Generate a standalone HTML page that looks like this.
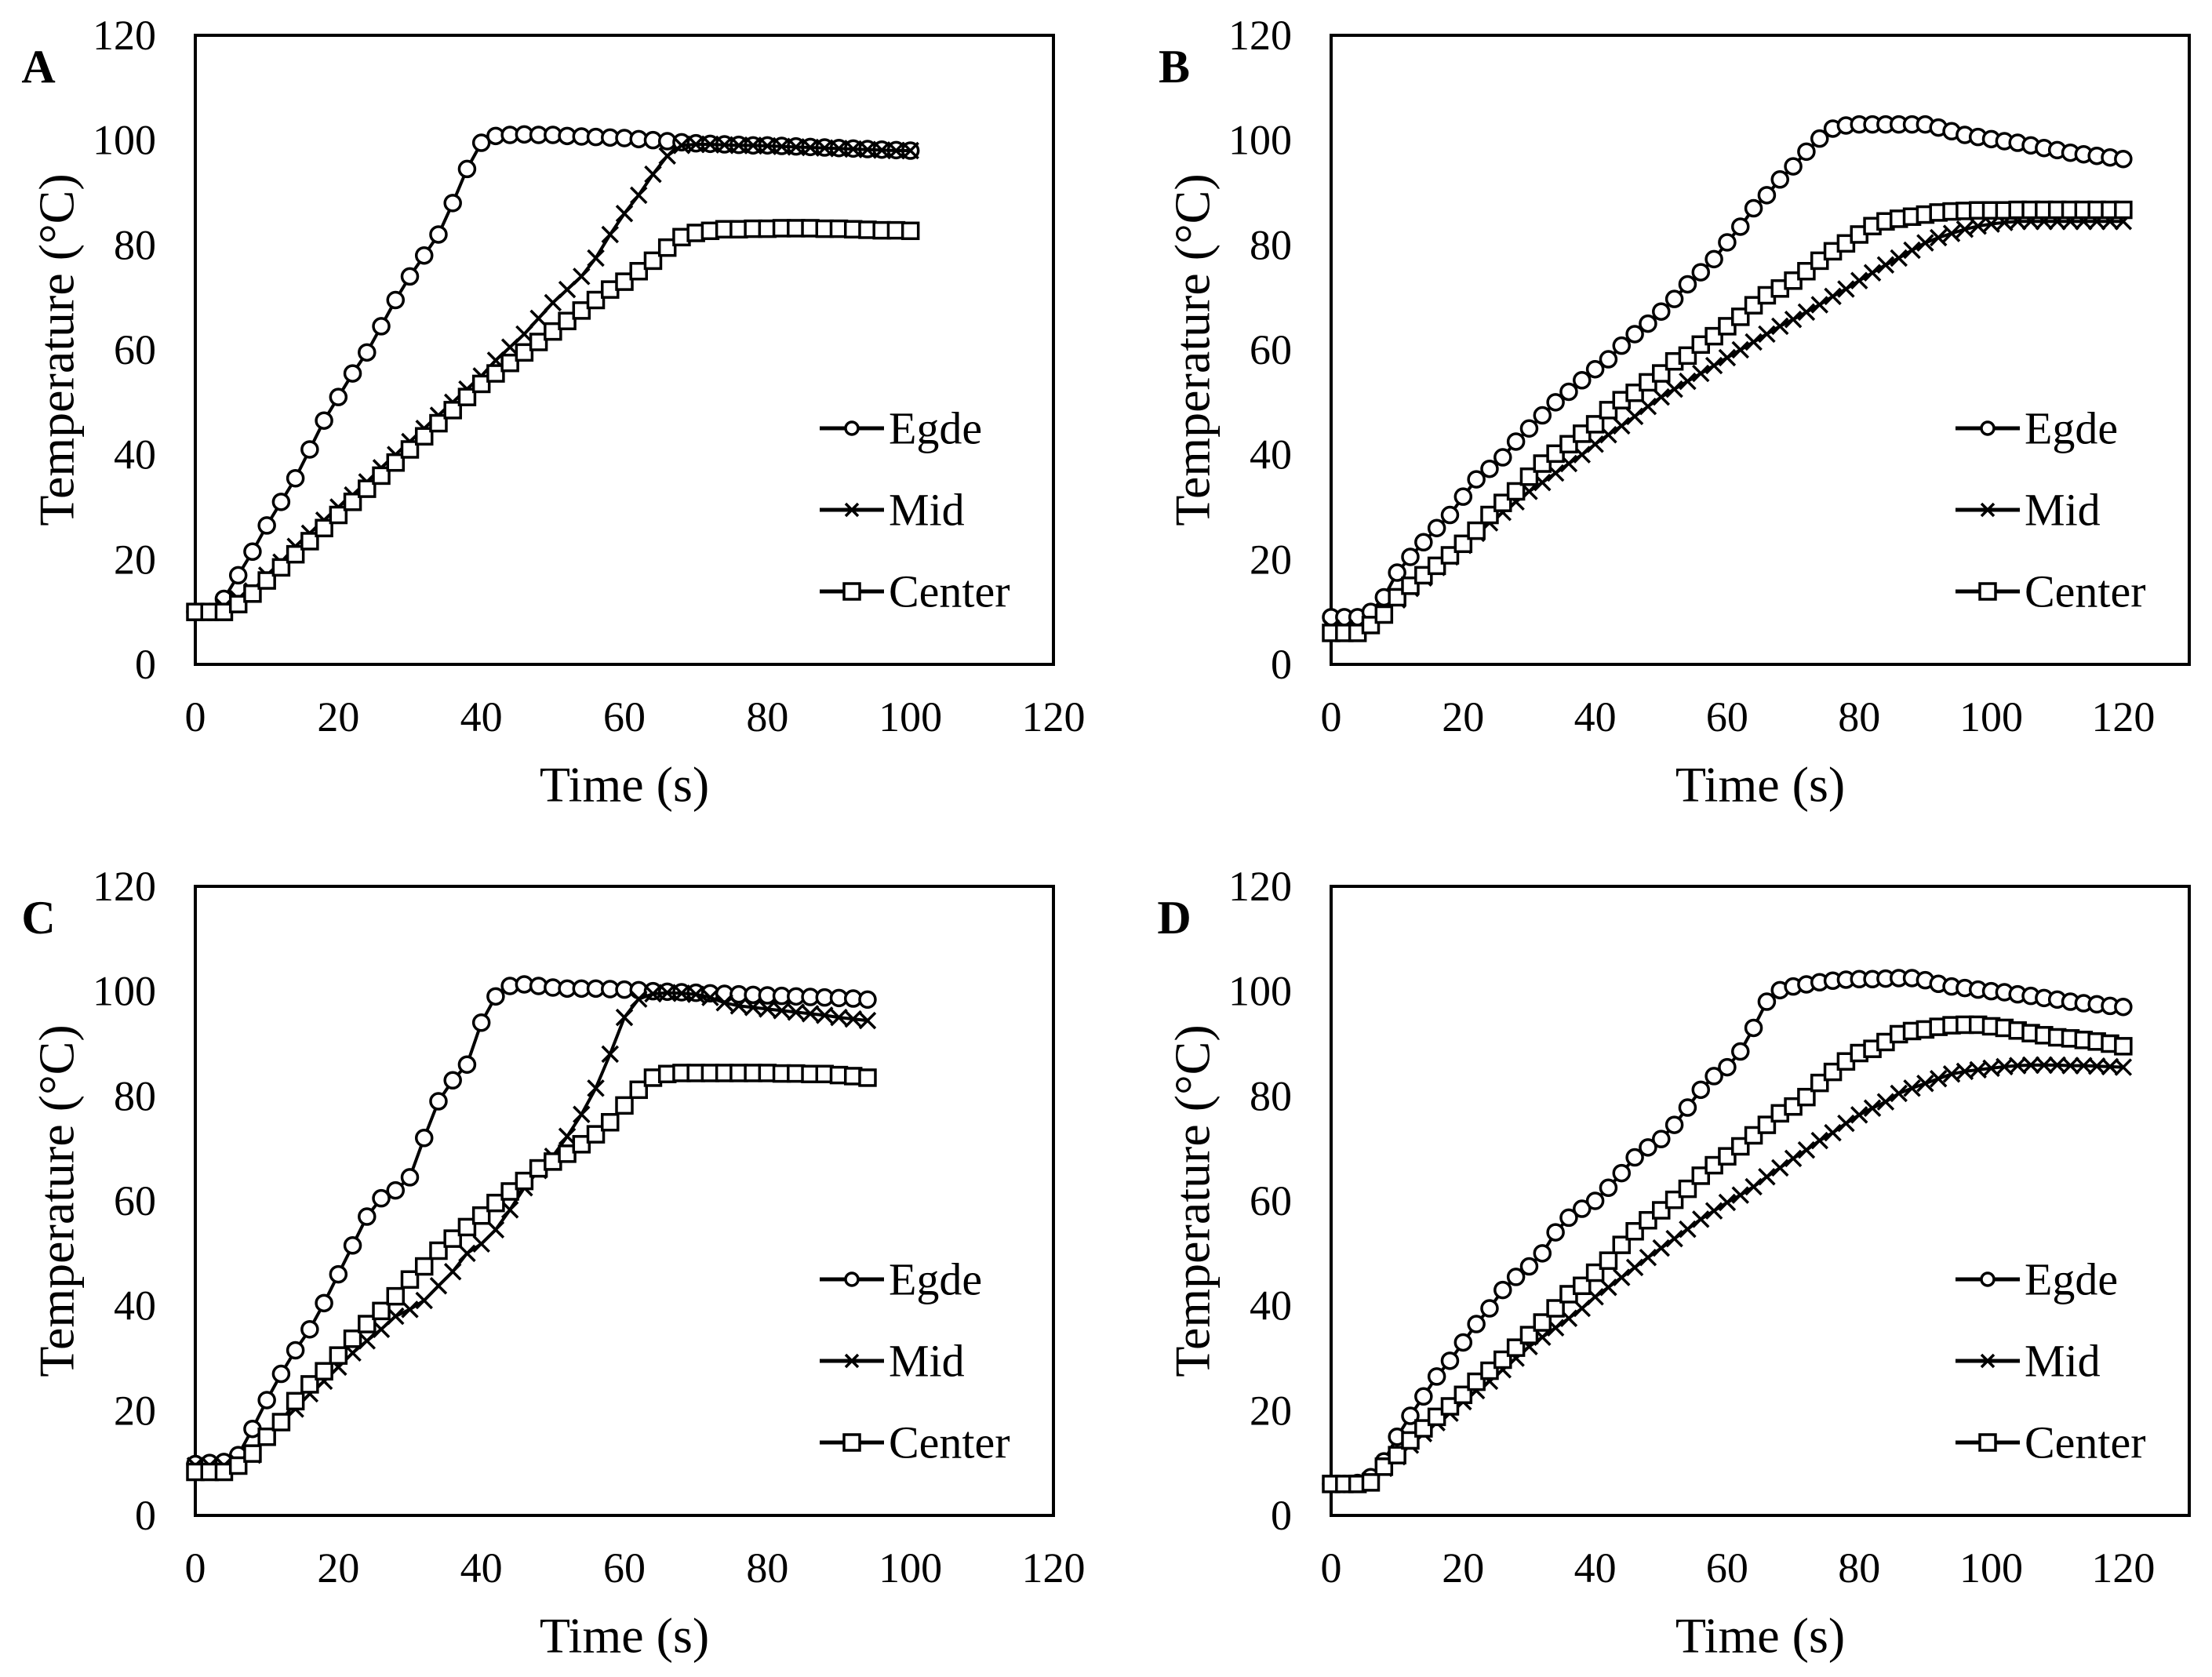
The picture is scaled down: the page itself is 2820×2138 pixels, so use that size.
<!DOCTYPE html>
<html><head><meta charset="utf-8">
<style>
html,body{margin:0;padding:0;background:#fff;}
svg{display:block;}
text{font-family:"Liberation Serif","Times New Roman",serif;fill:#000;}
</style></head>
<body>
<svg id="fig" width="2820" height="2138" viewBox="0 0 2820 2138" xmlns="http://www.w3.org/2000/svg"></svg>
<script>
const yTicks = [0,20,40,60,80,100,120];
const xTicks = [0,20,40,60,80,100,120];
const seriesNames = ["Egde","Mid","Center"];

const timeA = [0,2,4,6,8,10,12,14,16,18,20,22,24,26,28,30,32,34,36,38,40,42,44,46,48,50,52,54,56,58,60,62,64,66,68,70,72,74,76,78,80,82,84,86,88,90,92,94,96,98,100];
const edgeA = [10,10,12.5,17,21.5,26.5,31,35.5,41,46.5,51,55.5,59.5,64.5,69.5,74,78,82,88,94.5,99.5,100.8,101,101.1,101,101,100.8,100.7,100.6,100.5,100.4,100.2,100,99.8,99.6,99.4,99.3,99.2,99.1,99,99,98.9,98.8,98.7,98.6,98.5,98.4,98.3,98.2,98.1,98];
const midA = [10,10,11,12.5,14,17,19.5,22.5,25,27.5,30,32.3,34.8,37.5,40,42.5,45,47.5,50,52.5,55,58,60.5,63,66,69,71.5,74,77.5,82,86,89.5,93.5,97,99,99.2,99.2,99.1,99,99,98.9,98.8,98.7,98.6,98.5,98.4,98.3,98.2,98.1,98,98];
const centerA = [10,10,10,11.5,13.5,16,18.5,21,23.5,26,28.5,31,33.5,36,38.5,41,43.5,46,48.5,51,53.5,55.5,57.5,59.5,61.5,63.5,65.5,67.5,69.5,71.5,73,75,77,79.5,81.5,82.3,82.7,83,83,83.1,83.1,83.2,83.2,83.2,83.1,83.1,83,82.9,82.8,82.8,82.7];

const timeB = [0,2,4,6,8,10,12,14,16,18,20,22,24,26,28,30,32,34,36,38,40,42,44,46,48,50,52,54,56,58,60,62,64,66,68,70,72,74,76,78,80,82,84,86,88,90,92,94,96,98,100,102,104,106,108,110,112,114,116,118,120];
const edgeB = [9,9,9,10,12.8,17.5,20.5,23.3,26,28.5,32,35.3,37.3,39.5,42.5,45,47.5,50,52,54.2,56.3,58.2,60.8,63,65,67.3,69.7,72.5,74.8,77.3,80.5,83.5,87,89.5,92.5,95,97.8,100.3,102.2,102.8,103,103,103,103,103,103,102.4,101.7,101,100.6,100.2,99.8,99.5,99,98.5,98.1,97.6,97.3,97,96.7,96.4];
const midB = [7,7,7,8,10,12.3,14.5,16.5,18.5,20.5,22.7,25,27,29,31,33,34.7,36.5,38.3,40,42,43.8,45.5,47.3,49.2,51,52.5,54,55.5,57,58.5,60,61.5,63,64.5,65.8,67.2,68.6,70.2,71.6,73.2,74.7,76.2,77.5,79,80.4,81.4,82.2,83,83.6,84,84.3,84.5,84.5,84.5,84.5,84.5,84.5,84.5,84.5,84.5];
const centerB = [6,6,6,7.5,9.5,12.8,15,17,18.8,20.8,23,25.5,28.5,30.8,33,35.8,38.3,40.2,42,44,45.8,48.5,50.4,51.8,53.8,55.5,57.8,58.9,61,62.6,64.5,66.3,68.5,70.4,71.7,73.2,75,77,78.8,80.3,82,83.6,84.5,85,85.4,85.8,86.2,86.4,86.5,86.6,86.6,86.6,86.7,86.7,86.7,86.7,86.7,86.7,86.7,86.7,86.7];

const timeC = [0,2,4,6,8,10,12,14,16,18,20,22,24,26,28,30,32,34,36,38,40,42,44,46,48,50,52,54,56,58,60,62,64,66,68,70,72,74,76,78,80,82,84,86,88,90,92,94];
const edgeC = [9.8,10,10.2,11.5,16.5,22,27,31.5,35.5,40.5,46,51.5,57,60.5,62,64.5,72,79,83,86,94,99,101,101.3,101,100.7,100.5,100.5,100.5,100.4,100.3,100.2,100,99.9,99.8,99.7,99.6,99.5,99.4,99.3,99.2,99.1,99,98.9,98.8,98.7,98.6,98.4];
const midC = [9.5,9.5,9.5,10,11.5,15,17.8,20.3,23.2,25.6,28.3,31,33.3,35.5,38,39.3,41,43.8,46.5,50,51.8,54.5,58.3,62.5,65.8,68.5,72.3,76.5,81.5,88,95,98.5,99.5,99.7,99.6,99.4,98.8,97.8,97.2,96.9,96.6,96.3,96,95.7,95.4,95,94.7,94.4];
const centerC = [8.3,8.3,8.3,9.5,11.8,15,17.8,21.8,25,27.5,30.5,33.7,36.5,39,41.8,45,47.5,50.5,52.8,55,57.2,59.6,61.8,63.8,66.2,67.5,69,70.8,72.7,75,78.2,81.2,83.5,84.2,84.4,84.4,84.4,84.4,84.4,84.4,84.4,84.3,84.3,84.2,84.2,84,83.8,83.5];

const timeD = [0,2,4,6,8,10,12,14,16,18,20,22,24,26,28,30,32,34,36,38,40,42,44,46,48,50,52,54,56,58,60,62,64,66,68,70,72,74,76,78,80,82,84,86,88,90,92,94,96,98,100,102,104,106,108,110,112,114,116,118,120];
const edgeD = [6,6,6.2,7.3,10.3,15,19,22.7,26.5,29.5,33,36.5,39.5,43,45.5,47.5,50,54,56.8,58.5,60,62.5,65.3,68.3,70.2,71.8,74.5,77.8,81.2,83.8,85.5,88.5,93,98,100.2,100.9,101.3,101.7,102,102.2,102.3,102.3,102.4,102.5,102.5,102.1,101.4,100.9,100.6,100.3,100,99.8,99.4,99.1,98.7,98.4,98,97.7,97.5,97.2,97];
const midD = [6,6,6,6.8,9,11.2,13.4,15.6,17.7,19.5,21.7,23.8,25.6,27.8,30,32.2,34,35.8,37.6,39.5,41.7,43.5,45.4,47.3,49.2,51,52.8,54.6,56.5,58.1,59.7,61.1,62.7,64.6,66.3,68.1,69.7,71.5,73,74.8,76.4,77.7,78.9,80.5,81.5,82.4,83.3,84.2,84.7,85,85.3,85.6,85.8,85.9,85.9,85.9,85.8,85.8,85.7,85.6,85.5];
const centerD = [6,6,6,6.3,9.3,11.5,14.3,16.6,18.8,20.8,23,25.5,27.6,29.7,32,34.4,36.8,39.5,42.2,43.8,46.3,48.6,51.6,54.2,56.3,58.2,60.2,62.3,64.8,66.8,68.5,70.4,72.5,74.5,76.7,78,79.8,82.5,84.6,86.6,88.2,89,90.3,91.8,92.4,92.7,93.2,93.5,93.6,93.6,93.3,93,92.5,92,91.6,91.2,91,90.7,90.4,90,89.5];

const NS = "http://www.w3.org/2000/svg";
const svg = document.getElementById('fig');
function mk(tag, attrs, parent){
  const e = document.createElementNS(NS, tag);
  for (const k in attrs) e.setAttribute(k, attrs[k]);
  (parent||svg).appendChild(e);
  return e;
}

function marker(g, type, x, y, s){
  let m;
  if (type === 'circle'){
    m = mk('circle', {cx:x, cy:y, r:s, fill:'#fff', stroke:'#000', 'stroke-width':3.5}, g);
  } else if (type === 'square'){
    m = mk('rect', {x:x-s, y:y-s, width:2*s, height:2*s, fill:'#fff', stroke:'#000', 'stroke-width':3.5}, g);
  } else {
    m = mk('path', {d:`M${x-s},${y-s}L${x+s},${y+s}M${x-s},${y+s}L${x+s},${y-s}`, fill:'none', stroke:'#000', 'stroke-width':3.5}, g);
  }
  return m;
}

function panel(id, label, left, top, xmax, time, series){
  const W = 1094, H = 802;
  const xs = v => left + v / xmax * W;
  const ys = v => top + H - v / 120 * H;
  const g = mk('g', {});
  
  

  const frame = mk('rect', {x:left, y:top, width:W, height:H, fill:'#fff', stroke:'#000', 'stroke-width':4}, g);
  
  

  yTicks.forEach(v => {
    const t = mk('text', {x:left-50, y:ys(v), 'font-size':54, 'text-anchor':'end', 'dominant-baseline':'central'}, g);
    t.textContent = v;
    
    
  });
  xTicks.forEach(v => {
    const t = mk('text', {x:xs(v), y:top+H+67, 'font-size':54, 'text-anchor':'middle', 'dominant-baseline':'central'}, g);
    t.textContent = v;
    
    
  });

  const xt = mk('text', {x:left+W/2, y:top+H+153, 'font-size':64, 'text-anchor':'middle', 'dominant-baseline':'central'}, g);
  xt.textContent = 'Time (s)';
  
  

  const cy = top + H/2, cx = left - 177;
  const yt = mk('text', {x:cx, y:cy, 'font-size':64, 'text-anchor':'middle', 'dominant-baseline':'central', transform:`rotate(-90 ${cx} ${cy})`}, g);
  yt.textContent = 'Temperature (°C)';
  
  

  const pl = mk('text', {x:left-200, y:top+40, 'font-size':60, 'font-weight':'bold', 'text-anchor':'middle', 'dominant-baseline':'central'}, g);
  pl.textContent = label;
  
  

  const types = ['circle','cross','square'];
  const sizes = [10, 10, 10];
  series.forEach((vals, si) => {
    const sg = mk('g', {}, g);
    
    
    const pts = vals.map((v,i) => xs(time[i]).toFixed(1) + ',' + ys(v).toFixed(1)).join(' ');
    const line = mk('polyline', {points:pts, fill:'none', stroke:'#000', 'stroke-width':4, 'stroke-linejoin':'round'}, sg);
    
    
    vals.forEach((v,i) => {
      const m = marker(sg, types[si], xs(time[i]), ys(v), sizes[si]);
      
      
    });
  });

  const lg = mk('g', {}, g);
  
  
  const lsizes = [8, 8, 10];
  seriesNames.forEach((n, i) => {
    const y = top + 501 + i * 104;
    const eg = mk('g', {}, lg);
    
    
    mk('line', {x1:left+796, y1:y, x2:left+878, y2:y, stroke:'#000', 'stroke-width':5}, eg);
    marker(eg, types[i], left+837, y, lsizes[i]);
    const t = mk('text', {x:left+884, y:y, 'font-size':58, 'dominant-baseline':'central'}, eg);
    t.textContent = n;
  });
}

panel('a', 'A', 249, 45, 120, timeA, [edgeA, midA, centerA]);
panel('b', 'B', 1697, 45, 130, timeB, [edgeB, midB, centerB]);
panel('c', 'C', 249, 1130, 120, timeC, [edgeC, midC, centerC]);
panel('d', 'D', 1697, 1130, 130, timeD, [edgeD, midD, centerD]);
</script>
</body></html>
